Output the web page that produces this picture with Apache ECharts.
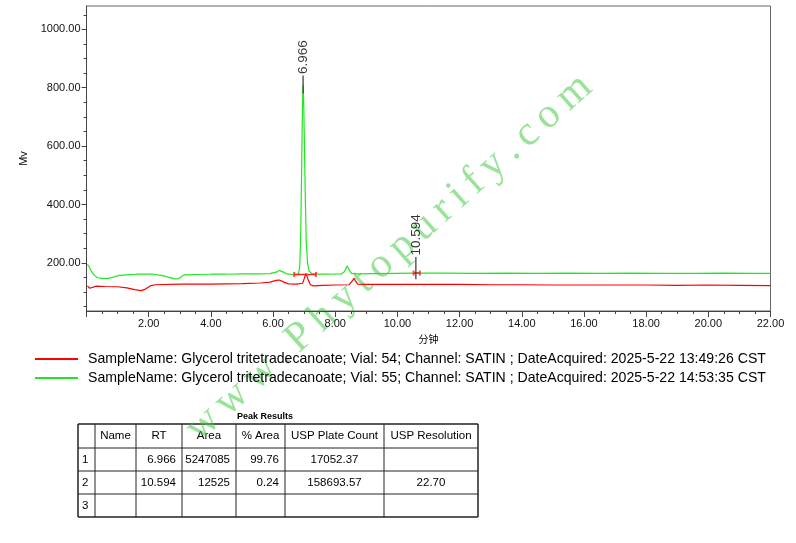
<!DOCTYPE html>
<html><head><meta charset="utf-8">
<script src="https://cdn.jsdelivr.net/npm/echarts@6/dist/echarts.min.js"></script>
<style>html,body{margin:0;padding:0;background:#fff}#c{width:796px;height:543px}</style>
</head><body><div id="c"></div>
<script>
// ---------- data ----------
var seriesNames = [
  'SampleName: Glycerol tritetradecanoate; Vial: 54; Channel: SATIN ; DateAcquired: 2025-5-22 13:49:26 CST',
  'SampleName: Glycerol tritetradecanoate; Vial: 55; Channel: SATIN ; DateAcquired: 2025-5-22 14:53:35 CST'
];
var redTime = [0.03,0.1,0.2,0.3,0.6,1.0,1.3,1.55,1.75,1.9,2.05,2.2,3.0,4.0,5.0,5.6,5.9,6.1,6.2,6.35,6.5,6.75,6.95,7.0,7.06,7.12,7.2,7.3,7.6,8.0,8.45,8.55,8.6,8.65,8.72,9.0,10,11,12,13,14,15,16,17,18,19,20,21,22];
var redMv   = [121,113,116,120,119,118,114,108,105,110,121,125,127,127,129,131,134,140,141,134,128,127,130,145,164,145,125,121,123,124,125,138,147,138,127,126,126,126,126,125,125,124,124,124,124,123,124,123,122];
var greenTime = [0.03,0.08,0.15,0.25,0.35,0.5,0.7,0.9,1.05,1.3,1.6,1.9,2.15,2.4,2.6,2.8,2.95,3.05,3.15,3.5,4.0,4.5,5.0,5.5,5.9,6.1,6.2,6.3,6.45,6.6,6.75,6.82,6.86,6.89,6.92,6.945,6.966,6.985,7.01,7.04,7.07,7.11,7.16,7.25,7.4,7.8,8.2,8.3,8.38,8.45,8.52,8.7,9.2,10.0,10.6,11.5,12.5,13.5,14.5,15.5,16.5,17.5,18.5,19.5,20.5,21.5,22];
var greenMv   = [195,188,172,158,149,147,147,152,157,159,161,161,161,157,152,146,145,152,159,160,161,161,162,162,163,168,174,170,162,160,160,163,190,300,520,730,810,760,600,410,270,200,172,163,161,161,162,170,189,176,164,162,163,164,165,165,164,165,164,165,164,165,164,164,165,164,164];
var peakRT = [6.966, 10.594];
var peakLabelMv = [842, 220];   // top of the peak leader lines
var peakLeaderLowMv = [780, 144];
var baselineSegs = [[6.68,7.38,160],[10.52,10.72,165]];
var xTickLabels = [2,4,6,8,10,12,14,16,18,20,22];
var yTickLabels = [200,400,600,800,1000];
var yMinorTicks = [50,100,150,200,250,300,350,400,450,500,550,600,650,700,750,800,850,900,950,1000,1050];
var tableTitle = 'Peak Results';
var tableHeaders = ['', 'Name', 'RT', 'Area', '% Area', 'USP Plate Count', 'USP Resolution'];
var tableRows = [
  ['1', '', '6.966', '5247085', '99.76', '17052.37', ''],
  ['2', '', '10.594', '12525', '0.24', '158693.57', '22.70'],
  ['3', '', '', '', '', '', '']
];
var watermark = 'www.Phytopurify.com';

// ---------- build ----------
function pairs(t, v){ return t.map(function(x,i){ return [x, v[i]]; }); }
var FONT = '"Liberation Sans", Arial, sans-serif';
var leaderData = [];
peakRT.forEach(function(rt,i){ leaderData.push([rt, peakLeaderLowMv[i]], [rt, peakLabelMv[i]], [null,null]); });
var baseData = [];
baselineSegs.forEach(function(s){ baseData.push([s[0], s[2]], [s[1], s[2]], [null,null]); });
var baseEnds = [];
baselineSegs.forEach(function(s){ baseEnds.push([s[0], s[2]], [s[1], s[2]]); });

var chart = echarts.init(document.getElementById('c'), null, {renderer:'canvas'});

// table graphic
var colX = [78, 95, 136, 182, 236, 285, 384, 478];
var rowY = [424, 448, 471, 494, 517];
var align = [['left','center','center','center','center','center','center'],
             ['left','left','right','right','right','center','center']];
var g = [];
g.push({type:'text', x: 265, y: 417, style:{text: tableTitle, font: 'bold 9px ' + FONT, fill:'#000', align:'center', verticalAlign:'middle'}});
for (var r = 0; r < rowY.length; r++) {
  g.push({type:'line', shape:{x1: colX[0], y1: rowY[r], x2: colX[colX.length-1], y2: rowY[r]}, style:{stroke:'#222', lineWidth: (r===0||r===rowY.length-1)?1.5:1}});
}
for (var c = 0; c < colX.length; c++) {
  g.push({type:'line', shape:{x1: colX[c], y1: rowY[0], x2: colX[c], y2: rowY[rowY.length-1]}, style:{stroke:'#222', lineWidth: (c===0||c===colX.length-1)?1.5:1}});
}
function cellText(txt, ci, ri, al){
  var x;
  if (al === 'left') x = colX[ci] + 4;
  else if (al === 'right') x = colX[ci+1] - 6;
  else x = (colX[ci] + colX[ci+1]) / 2;
  return {type:'text', x: x, y: (rowY[ri] + rowY[ri+1]) / 2, style:{text: txt, font: '11.5px ' + FONT, fill:'#000', align: al, verticalAlign:'middle'}};
}
tableHeaders.forEach(function(h, ci){ if (h) g.push(cellText(h, ci, 0, align[0][ci])); });
tableRows.forEach(function(row, ri){ row.forEach(function(v, ci){ if (v) g.push(cellText(v, ci, ri+1, align[1][ci])); }); });

// watermark (letters spaced along a rotated baseline)
var wmFont = '42px "Liberation Serif", "Times New Roman", serif';
var cv = document.createElement('canvas').getContext('2d'); cv.font = wmFont;
var wmChildren = []; var px = 0;
for (var k = 0; k < watermark.length; k++) {
  var ch = watermark[k];
  wmChildren.push({type:'text', x: px, y: 0, style:{text: ch, font: wmFont, fill:'rgba(80,205,80,0.58)', align:'left', verticalAlign:'bottom'}});
  px += cv.measureText(ch).width + 8;
}
g.push({type:'group', x: 206, y: 450, rotation: 0.73, z: 100, silent: true, children: wmChildren});

var option = {
  animation: false,
  backgroundColor: '#fff',
  grid: {left: 86.5, right: 25.5, top: 6, bottom: 232, show: true, borderColor: '#666', borderWidth: 1},
  legend: {
    orient: 'vertical', left: 35, top: 352, padding: 0, itemWidth: 43, itemHeight: 2, itemGap: 5, icon: 'rect',
    data: seriesNames, selectedMode: false,
    textStyle: {fontFamily: FONT, fontSize: 14.1, color: '#000', padding: [0,0,0,5]}
  },
  xAxis: {
    type: 'value', min: 0, max: 22, interval: 2,
    name: '分钟', nameLocation: 'middle', nameGap: 22,
    nameTextStyle: {fontFamily: '"Noto Sans CJK SC", sans-serif', fontSize: 10, color: '#000'},
    axisLine: {lineStyle: {color: '#444'}},
    axisTick: {length: 6, lineStyle: {color: '#444'}},
    minorTick: {show: true, splitNumber: 4, length: 3, lineStyle: {color: '#444'}},
    splitLine: {show: false},
    axisLabel: {margin: 7, fontFamily: FONT, fontSize: 11, color: '#111',
      formatter: function(v){ return xTickLabels.indexOf(v) >= 0 ? v.toFixed(2) : ''; }}
  },
  yAxis: [{
    type: 'value', min: 35, max: 1080,
    axisLine: {show: true, lineStyle: {color: '#444'}},
    axisTick: {show: true, length: 3, customValues: yMinorTicks, lineStyle: {color: '#444'}},
    axisLabel: {show: false}, splitLine: {show: false}
  }, {
    type: 'value', min: 35, max: 1080, position: 'left',
    name: 'Mv', nameLocation: 'middle', nameGap: 56,
    nameTextStyle: {fontFamily: FONT, fontSize: 11, color: '#000'},
    axisLine: {show: false},
    axisTick: {show: true, length: 5, customValues: yTickLabels, lineStyle: {color: '#444'}},
    axisLabel: {customValues: yTickLabels, margin: 6, fontFamily: FONT, fontSize: 11, color: '#111',
      formatter: function(v){ return v.toFixed(2); }},
    splitLine: {show: false}
  }],
  series: [
    {name: seriesNames[0], type: 'line', data: pairs(redTime, redMv), showSymbol: false, symbol: 'none',
      color: '#ff0000', lineStyle: {width: 1.2, color: '#ff0000'}, z: 3},
    {name: seriesNames[1], type: 'line', data: pairs(greenTime, greenMv), showSymbol: false, symbol: 'none',
      color: '#22e622', lineStyle: {width: 1.2, color: '#22e622'}, z: 2},
    {name: 'baseline', type: 'line', data: baseData, connectNulls: false, symbol: 'none',
      lineStyle: {width: 1.5, color: '#ff2020'}, z: 4},
    {name: 'baselineEnds', type: 'scatter', data: baseEnds, symbol: 'rect', symbolSize: [2, 5],
      itemStyle: {color: '#ff2020'}, z: 4},
    {name: 'leader', type: 'line', data: leaderData, connectNulls: false, symbol: 'none',
      lineStyle: {width: 1.2, color: '#333'}, z: 5},
    {name: 'peakLabels', type: 'scatter', symbolSize: 1, itemStyle: {color: 'transparent'},
      data: peakRT.map(function(rt,i){ return {value: [rt, peakLabelMv[i]], label: {formatter: rt.toFixed(3)}}; }),
      label: {show: true, position: 'top', distance: 1, rotate: 90, align: 'left', verticalAlign: 'middle',
        fontFamily: FONT, fontSize: 13.5, color: '#000'}, z: 6}
  ],
  graphic: g
};
chart.setOption(option);
</script></body></html>
